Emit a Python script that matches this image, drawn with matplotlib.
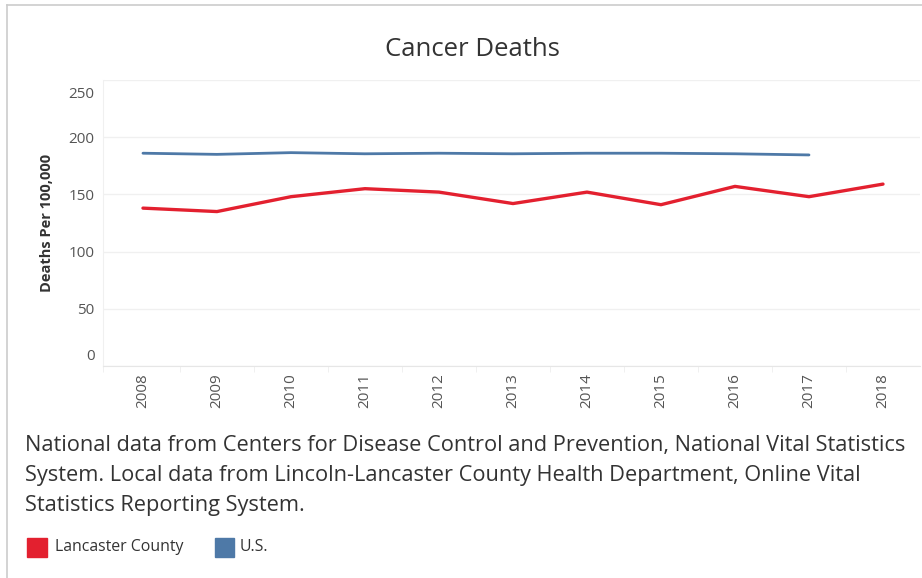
import matplotlib.pyplot as plt
import matplotlib.transforms as mtransforms
from matplotlib.lines import Line2D
from matplotlib.patches import Rectangle

years = [2008, 2009, 2010, 2011, 2012, 2013, 2014, 2015, 2016, 2017, 2018]
lancaster = [138, 135, 148, 155, 152, 142, 152, 141, 157, 148, 159]
us_years = [2008, 2009, 2010, 2011, 2012, 2013, 2014, 2015, 2016, 2017]
us = [186, 185, 186.5, 185.5, 186, 185.5, 186, 186, 185.5, 184.5]
y_ticks = [0, 50, 100, 150, 200, 250]
caption_lines = [
    'National data from Centers for Disease Control and Prevention, National Vital Statistics',
    'System. Local data from Lincoln-Lancaster County Health Department, Online Vital',
    'Statistics Reporting System.',
]

red = '#e3202f'
blue = '#4e79a7'
txt = '#333333'

plt.rcParams['font.family'] = ['Open Sans', 'DejaVu Sans']

fig = plt.figure(figsize=(9.22, 5.78), dpi=100)
ax = fig.add_axes([103 / 922, 1 - 366 / 578, (920 - 103) / 922, (366 - 80) / 578])

ax.plot(years, lancaster, color=red, lw=2.4, solid_capstyle='round')
ax.plot(us_years, us, color=blue, lw=2.0, solid_capstyle='round')

ax.set_xlim(2007.46, 2018.5)
ax.set_ylim(0, 250)
ax.set_yticks(y_ticks)
ax.set_xticks(years)
ax.set_xticks([y + 0.5 for y in years[:-1]] + [2007.46], minor=True)
ax.tick_params(axis='x', which='major', length=0, pad=5, labelrotation=90,
               labelsize=11, labelcolor='#555555')
ax.tick_params(axis='x', which='minor', length=4, color='#eeeeee')
ax.tick_params(axis='y', length=0, pad=6, labelsize=11, labelcolor='#555555')
for lab in ax.get_xticklabels():
    lab.set_va('top')
# tableau keeps the end labels inside the axis
yl = ax.get_yticklabels()
yl[0].set_transform(yl[0].get_transform() +
                    mtransforms.ScaledTranslation(0, 11 / 100, fig.dpi_scale_trans))
yl[-1].set_transform(yl[-1].get_transform() +
                     mtransforms.ScaledTranslation(0, -12 / 100, fig.dpi_scale_trans))

ax.grid(axis='y', color='#f0f0f0', lw=1)
ax.set_axisbelow(True)
for s in ['top', 'right']:
    ax.spines[s].set_visible(False)
ax.spines['left'].set_color('#f0f0f0')
ax.spines['bottom'].set_color('#e6e6e6')

ax.set_ylabel('Deaths Per 100,000', fontsize=10.5, fontweight='bold', color=txt)
ax.yaxis.set_label_coords(-49 / 817, 0.5)

fig.text(472 / 922, 1 - 50 / 578, 'Cancer Deaths', ha='center', va='center',
         fontsize=18.5, color=txt)

for i, line in enumerate(caption_lines):
    fig.text(25 / 922, 1 - (445 + 30 * i) / 578, line, ha='left', va='center',
             fontsize=15.65, color=txt)

# legend
fig.patches.append(Rectangle((27 / 922, 1 - 557 / 578), 20 / 922, 19 / 578,
                             transform=fig.transFigure, color=red))
fig.text(55 / 922, 1 - 547 / 578, 'Lancaster County', ha='left', va='center',
         fontsize=11.4, color=txt)
fig.patches.append(Rectangle((215 / 922, 1 - 557 / 578), 19 / 922, 19 / 578,
                             transform=fig.transFigure, color=blue))
fig.text(240 / 922, 1 - 547 / 578, 'U.S.', ha='left', va='center',
         fontsize=11.4, color=txt)

# outer border
fig.add_artist(Line2D([7 / 922, 7 / 922], [0, 1 - 5 / 578], color='#cccccc', lw=1.2))
fig.add_artist(Line2D([7 / 922, 1], [1 - 5 / 578, 1 - 5 / 578], color='#cccccc', lw=1.2))

fig.savefig('out.png', dpi=100)
